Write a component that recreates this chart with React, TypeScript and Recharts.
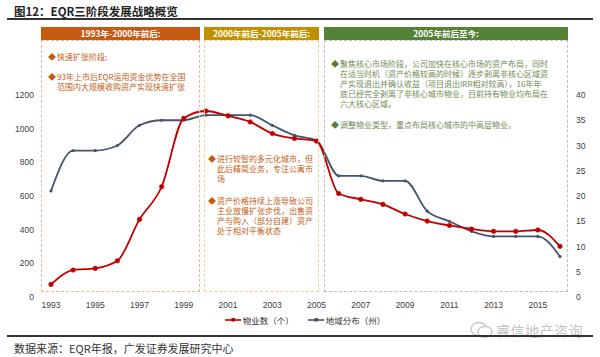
import { Legend, Line, LineChart, XAxis, YAxis } from "recharts"

const years = [
  "1993", "1994", "1995", "1996", "1997", "1998", "1999", "2000", "2001", "2002", "2003", "2004",
  "2005", "2006", "2007", "2008", "2009", "2010", "2011", "2012", "2013", "2014", "2015", "2016",
]
// 物业数（个）, left axis
const propertyCount = [75, 160, 170, 215, 461, 655, 1062, 1105, 1076, 1040, 971, 942, 926, 615, 580, 550, 493, 451, 425, 404, 390, 390, 398, 301]
// 地域分布（州）, right axis
const stateCount = [21, 29, 29, 30, 34, 35, 35, 36, 36, 36, 34, 32, 31, 24, 24, 23, 23, 17, 15, 13, 12, 12, 12, 8]

const leftTicks = [0, 200, 400, 600, 800, 1000, 1200]
const rightTicks = [0, 5, 10, 15, 20, 25, 30, 35, 40]

const seriesNames = { properties: "物业数（个）", states: "地域分布（州）" }

const data = years.map((year, i) => ({ year, properties: propertyCount[i], states: stateCount[i] }))

const CJK = '"Noto Sans CJK SC", "Noto Sans", sans-serif'
const RED = "#c00000"
const SLATE = "#44546a"

type LegendItem = { value: string; color: string; dataKey?: string }

function LegendContent({ payload }: { payload?: LegendItem[] }) {
  return (
    <div style={{ display: "flex", justifyContent: "center", height: 16, alignItems: "center", gap: 14, fontFamily: CJK, fontSize: 8.5, color: "#333", paddingLeft: 10 }}>
      {(payload || []).map((item) => (
        <div key={item.value} style={{ display: "flex", alignItems: "center", gap: 2 }}>
          <svg width={16} height={6}>
            <line x1={0} y1={3} x2={16} y2={3} stroke={item.color} strokeWidth={1.6} />
            <rect x={6.5} y={1} width={3.5} height={3.5} fill={item.color} />
          </svg>
          <span>{item.value}</span>
        </div>
      ))}
    </div>
  )
}

function Bullet({ x, y, color, bulletColor, lines, lineHeight = 10 }: { x: number; y: number; color: string; bulletColor: string; lines: string[]; lineHeight?: number }) {
  return (
    <div style={{ position: "absolute", left: x, top: y, fontFamily: CJK, fontSize: 8, lineHeight: `${lineHeight}px`, color, whiteSpace: "nowrap" }}>
      <span style={{ position: "absolute", left: -9, top: 0, color: bulletColor, fontSize: 8 }}>◆</span>
      {lines.map((l) => (
        <div key={l}>{l}</div>
      ))}
    </div>
  )
}

function Panel({ left, width, head, title, border }: { left: number; width: number; head: string; title: string; border: string }) {
  return (
    <>
      <div style={{ position: "absolute", left, top: 27, width, height: 13, background: head, color: "#fff", fontFamily: CJK, fontWeight: 700, fontSize: 8.5, lineHeight: "13px", textAlign: "center" }}>
        {title}
      </div>
      <div style={{ position: "absolute", left, top: 40, width: width - 2, height: 250, border: `1px dashed ${border}` }} />
    </>
  )
}

export default function App() {
  return (
    <div style={{ position: "absolute", left: 0, top: 0, width: 600, height: 357, background: "#fff", overflow: "hidden" }}>
      <div style={{ position: "absolute", left: 14, top: 3, fontFamily: CJK, fontWeight: 700, fontSize: 11.5, color: "#222" }}>
        图12：EQR三阶段发展战略概览
      </div>
      <div style={{ position: "absolute", left: 7, top: 18, width: 586, height: 2, background: "#333" }} />

      <LineChart width={600} height={357} data={data} margin={{ top: 95, right: 0, bottom: 29, left: 0 }} style={{ position: "absolute", left: 0, top: 0 }}>
        <XAxis dataKey="year" interval={1} padding={{ left: 11, right: 11 }} axisLine={false} tickLine={false} tickSize={3} tickMargin={2} height={15} tick={{ fontSize: 8.5, fill: "#404040", fontFamily: "Liberation Sans" }} />
        <YAxis yAxisId="left" domain={[0, 1200]} ticks={leftTicks} width={40} axisLine={false} tickLine={false} tickSize={4} tickMargin={2} tick={{ fontSize: 8.5, fill: "#404040", fontFamily: "Liberation Sans" }} />
        <YAxis yAxisId="right" orientation="right" domain={[0, 40]} ticks={rightTicks} width={29} axisLine={false} tickLine={false} tickSize={3} tickMargin={2} tick={{ fontSize: 8.5, fill: "#404040", fontFamily: "Liberation Sans" }} />
        <Legend verticalAlign="bottom" itemSorter="dataKey" content={<LegendContent />} />
        <Line yAxisId="right" type="monotone" dataKey="states" name={seriesNames.states} stroke={SLATE} strokeWidth={1.8} dot={{ r: 1.6, fill: SLATE, stroke: SLATE, strokeWidth: 0 }} isAnimationActive={false} />
        <Line yAxisId="left" type="monotone" dataKey="properties" name={seriesNames.properties} stroke={RED} strokeWidth={1.8} dot={{ r: 2.3, fill: RED, stroke: RED, strokeWidth: 0.5 }} isAnimationActive={false} />
      </LineChart>

      <Panel left={41} width={159} head="#c55a11" title="1993年-2000年前后:" border="#f0b48a" />
      <Panel left={204} width={115} head="#bf9000" title="2000年前后-2005年前后:" border="#e8d39a" />
      <Panel left={324} width={244} head="#548235" title="2005年前后至今:" border="#bfbfbf" />

      <Bullet x={57} y={52} color="#c55a11" bulletColor="#c55a11" lines={["快速扩张阶段;"]} />
      <Bullet x={57} y={72} color="#c55a11" bulletColor="#c55a11" lines={["93年上市后EQR运用资金优势在全国", "范围内大规模收购资产实现快速扩张"]} />

      <Bullet x={217} y={154} color="#c55a11" bulletColor="#c55a11" lines={["进行较智的多元化城市，但", "此后精简业务，专注公寓市", "场"]} />
      <Bullet x={217} y={196} color="#c55a11" bulletColor="#c55a11" lines={["资产价格持续上涨导致公司", "主业放慢扩张步伐，出售资", "产与购入（部分自建）资产", "处于相对平衡状态"]} />

      <Bullet x={340} y={59} color="#6f8a55" bulletColor="#548235" lines={[
        "聚焦核心市场阶段，公司加快在核心市场的资产布局，同时",
        "在适当时机（资产价格较高的时候）逐步剥离非核心区域资",
        "产实现退出并确认收益（项目退出IRR相对较高），16年年",
        "底已经完全剥离了非核心城市物业，目前持有物业均布局在",
        "六大核心区域。",
      ]} />
      <Bullet x={340} y={120} color="#6f8a55" bulletColor="#548235" lines={["调整物业类型，重点布局核心城市的中高层物业。"]} />

      <svg style={{ position: "absolute", left: 470, top: 321 }} width={24} height={18}>
        <ellipse cx={9} cy={8} rx={8} ry={6.5} fill="none" stroke="#c8c8c8" strokeWidth={1.3} />
        <ellipse cx={15} cy={11} rx={7} ry={5.5} fill="#fff" stroke="#c8c8c8" strokeWidth={1.3} />
      </svg>
      <div style={{ position: "absolute", left: 496, top: 320, fontFamily: CJK, fontSize: 14, color: "#c4c4c4", letterSpacing: 0.5 }}>
        睿信地产咨询
      </div>

      <div style={{ position: "absolute", left: 7, top: 335, width: 586, height: 2, background: "#333" }} />
      <div style={{ position: "absolute", left: 14, top: 340, fontFamily: CJK, fontSize: 11, color: "#333" }}>
        数据来源：EQR年报，广发证券发展研究中心
      </div>
    </div>
  )
}
